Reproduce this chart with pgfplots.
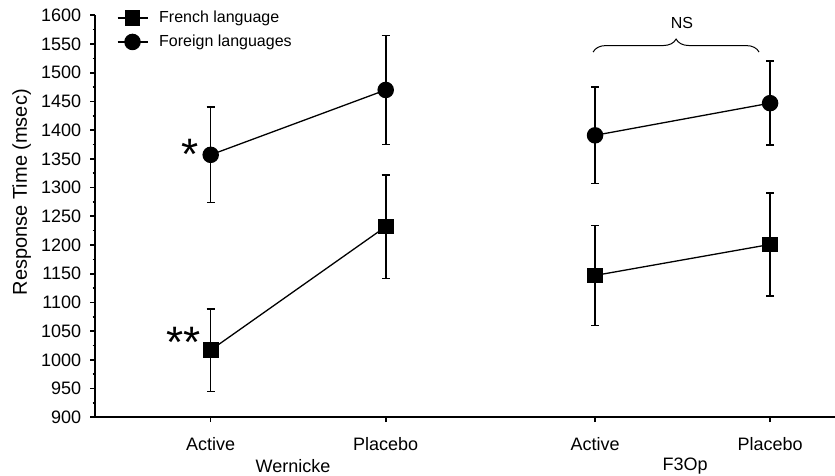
\documentclass[border=0pt]{standalone}
\usepackage{fontspec}
\setmainfont{Liberation Sans}
\usepackage{pgfplots}
\pgfplotsset{compat=1.18}
\usepackage{pgfplotstable}
\usetikzlibrary{decorations.pathreplacing}

% Wernicke
\pgfplotstableread{
x y err
0 1017 72
1 1232 90
}\frenchW
\pgfplotstableread{
x y err
0 1357 83
1 1470 95
}\foreignW
% F3Op
\pgfplotstableread{
x y err
2.196 1147 87
3.196 1201 90
}\frenchF
\pgfplotstableread{
x y err
2.196 1391 84
3.196 1447 73
}\foreignF

\begin{document}
\begin{tikzpicture}
\begin{axis}[
  scale only axis,
  width=370pt, height=201pt,
  xmin=-0.661, xmax=3.567,
  ymin=900, ymax=1600,
  axis x line=bottom, axis y line=left,
  axis line style={line width=1pt, -},
  xtick={0,1,2.196,3.196},
  xticklabels={Active,Placebo,Active,Placebo},
  ytick={900,950,...,1600},
  minor y tick num=1,
  tick align=outside,
  major tick length=2.4pt,
  minor tick length=1.2pt,
  tick style={line width=0.8pt, black},
  /pgf/number format/assume math mode=true,
  /pgf/number format/1000 sep={},
  tick label style={font=\fontsize{9}{10}\selectfont},
  xticklabel style={yshift=-4pt},
  yticklabel style={xshift=-1pt},
  ylabel={Response Time (msec)},
  ylabel style={font=\fontsize{9.6}{11}\selectfont},
  every axis y label/.style={at={(axis description cs:-0.099,0.56)}, rotate=90, anchor=center},
  clip=false,
  legend style={draw=none, fill=none, at={(axis description cs:0.029,1.020)}, anchor=north west,
    font=\fontsize{8}{9.5}\selectfont, row sep=1.7pt, column sep=4pt, inner sep=0pt,
    nodes={inner sep=1.5pt}},
  legend cell align=left,
  legend image code/.code={\draw[mark repeat=2,mark phase=2] plot coordinates {(0pt,0pt) (7.5pt,0pt) (15pt,0pt)};},
  every error bar/.style={line width=0.8pt},
]
\addplot[black, line width=0.65pt, mark=square*, mark size=3.6pt,
  error bars/.cd, y dir=both, y explicit,
  error mark options={rotate=90, mark size=2pt, line width=0.8pt}]
  table[x=x, y=y, y error=err] {\frenchW};
\addlegendentry{French language}
\addplot[black, line width=0.65pt, mark=*, mark size=3.8pt,
  error bars/.cd, y dir=both, y explicit,
  error mark options={rotate=90, mark size=2pt, line width=0.8pt}]
  table[x=x, y=y, y error=err] {\foreignW};
\addlegendentry{Foreign languages}
\addplot[black, line width=0.65pt, mark=square*, mark size=3.6pt, forget plot,
  error bars/.cd, y dir=both, y explicit,
  error mark options={rotate=90, mark size=2pt, line width=0.8pt}]
  table[x=x, y=y, y error=err] {\frenchF};
\addplot[black, line width=0.65pt, mark=*, mark size=3.8pt, forget plot,
  error bars/.cd, y dir=both, y explicit,
  error mark options={rotate=90, mark size=2pt, line width=0.8pt}]
  table[x=x, y=y, y error=err] {\foreignF};

\draw[line width=0.5pt, decorate, decoration={brace, amplitude=6.5pt}]
  (axis cs:2.185,1536) -- (axis cs:3.133,1536);
\node[font=\fontsize{8}{9}\selectfont] at (axis cs:2.693,1586) {NS};
\node[font=\fontsize{22}{22}\selectfont, anchor=center] at (axis cs:-0.12,1358) {*};
\node[font=\fontsize{22}{22}\selectfont, anchor=center] at (axis cs:-0.155,1030) {**};
\node[font=\fontsize{9}{10}\selectfont] at ([yshift=-24.4pt]axis cs:0.47,900) {Wernicke};
\node[font=\fontsize{9}{10}\selectfont] at ([yshift=-24.4pt]axis cs:2.71,900) {F3Op};
\end{axis}
\pgfresetboundingbox
\path[use as bounding box] (-47.5pt,-29.35pt) rectangle (370pt,208.65pt);
\end{tikzpicture}
\end{document}
